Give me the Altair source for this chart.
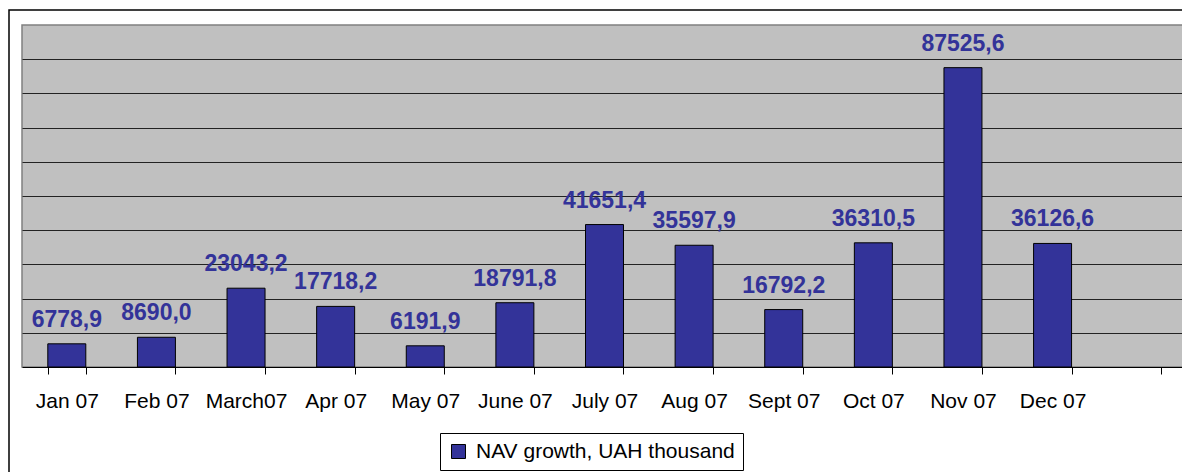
import altair as alt
import pandas as pd

months = ["Jan 07", "Feb 07", "March07", "Apr 07", "May 07", "June 07",
          "July 07", "Aug 07", "Sept 07", "Oct 07", "Nov 07", "Dec 07"]
values = [6778.9, 8690.0, 23043.2, 17718.2, 6191.9, 18791.8,
          41651.4, 35597.9, 16792.2, 36310.5, 87525.6, 36126.6]
series_name = "NAV growth, UAH thousand"
x_domain = months + [" "]
y_grid = [10000, 20000, 30000, 40000, 50000, 60000, 70000, 80000, 90000]

df = pd.DataFrame({"month": months, "value": values, "series": series_name})

BLUE = "#333399"
FONT = "Liberation Sans"

x_scale = alt.Scale(domain=x_domain, paddingInner=0.576, paddingOuter=0.288)

x_enc = alt.X("month:N", scale=x_scale,
              axis=alt.Axis(title=None, labelAngle=0, labelFont=FONT, labelFontSize=21,
                            labelColor="black", tickColor="black", domainColor="black",
                            tickSize=7, labelPadding=16, tickBand="extent", grid=False,
                            domainWidth=1, tickWidth=1))
y_enc = alt.Y("value:Q", scale=alt.Scale(domain=[0, 100000], nice=False),
              axis=alt.Axis(title=None, labels=False, ticks=False, domain=False,
                            grid=True, values=y_grid, gridColor="#222222", gridWidth=1))

base = alt.Chart(df)

bars = base.mark_bar(stroke="black", strokeWidth=1).encode(
    x=x_enc, y=y_enc,
    color=alt.Color("series:N", scale=alt.Scale(range=[BLUE]),
                    legend=alt.Legend(title=None, orient="none", legendX=418, legendY=408,
                                      strokeColor="black", fillColor="white", padding=8,
                                      labelFont=FONT, labelFontSize=21, labelColor="black",
                                      symbolType="square", symbolSize=196,
                                      symbolStrokeColor="black", symbolStrokeWidth=1,
                                      labelOffset=7, labelLimit=400)),
)

labels = base.transform_calculate(
    label="replace(format(datum.value, '.1f'), '.', ',')"
).mark_text(font=FONT, fontSize=23, fontWeight="bold", color=BLUE,
            baseline="alphabetic", dy=-17).encode(
    x=alt.X("month:N", scale=x_scale),
    y=alt.Y("value:Q"),
    text="label:N",
)

frame = alt.Chart(alt.Data(values=[{}])).mark_rect(
    fill=None, stroke="black", strokeWidth=1.5
).encode(
    x=alt.value(-13), x2=alt.value(1300), y=alt.value(-15), y2=alt.value(600)
)

chart = alt.layer(frame, bars, labels).properties(
    width=1165, height=342,
    autosize=alt.AutoSizeParams(type="none"),
    padding={"left": 14, "top": 17, "right": -5, "bottom": 105},
    background="white",
).configure_view(
    fill="#C0C0C0", stroke="#808080", strokeWidth=1.5
)

chart.save("out.html", embed_options={"renderer": "svg", "actions": False})
